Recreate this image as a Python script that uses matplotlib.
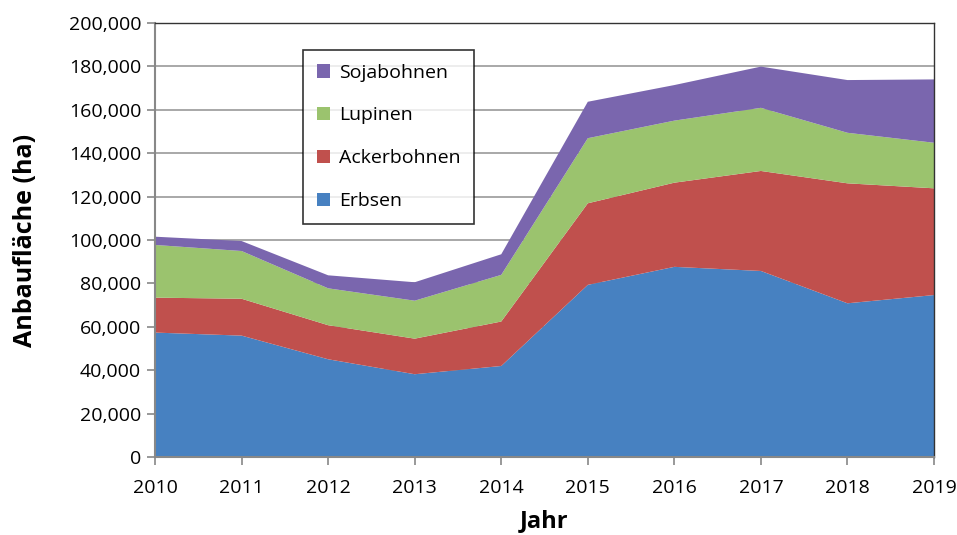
import numpy as np
import matplotlib.pyplot as plt
from matplotlib.ticker import FuncFormatter

plt.rcParams['font.family'] = ['Open Sans', 'DejaVu Sans']

years = [2010, 2011, 2012, 2013, 2014, 2015, 2016, 2017, 2018, 2019]
erbsen = [57300, 55900, 45000, 38100, 41900, 79300, 87600, 85700, 70800, 74600]
ackerbohnen = [16100, 17000, 15700, 16400, 20500, 37600, 38800, 46100, 55300, 49200]
lupinen = [24300, 22000, 17000, 17500, 21500, 30000, 28600, 29100, 23300, 21000]
sojabohnen = [3800, 4600, 6000, 8500, 9500, 16800, 16400, 19000, 24300, 29200]

labels = ['Erbsen', 'Ackerbohnen', 'Lupinen', 'Sojabohnen']
colors = ['#4781C1', '#C0504D', '#9BC36E', '#7A66AE']

fig = plt.figure(figsize=(9.57, 5.35), dpi=100)
ax = fig.add_axes([0.162, 0.146, 0.814, 0.811])

ax.stackplot(years, erbsen, ackerbohnen, lupinen, sojabohnen,
             labels=labels, colors=colors, linewidth=0)

ax.set_xlim(2010, 2019)
ax.set_ylim(0, 200000)
ax.set_xticks(years)
ax.set_yticks(np.arange(0, 200001, 20000))
ax.yaxis.set_major_formatter(FuncFormatter(lambda v, p: f'{int(v):,}'))
ax.grid(axis='y', color='#999999', linewidth=1.2, zorder=0)
ax.set_axisbelow(True)

for s in ['left', 'bottom']:
    ax.spines[s].set_color('#888888')
    ax.spines[s].set_linewidth(1.5)
for s in ['top', 'right']:
    ax.spines[s].set_color('#333333')
    ax.spines[s].set_linewidth(1.0)

ax.tick_params(axis='both', direction='out', length=6, width=1.2, color='#888888',
               labelsize=14, pad=4)
ax.tick_params(axis='x', pad=10)

ax.set_ylabel('Anbaufläche (ha)', fontsize=18, fontweight='bold')
ax.set_xlabel('Jahr', fontsize=17, fontweight='bold')
ax.yaxis.set_label_coords(-0.166, 0.5)
ax.xaxis.set_label_coords(0.5, -0.148)
ax.yaxis.label.set_va('center')
ax.xaxis.label.set_va('center')

handles, lbls = ax.get_legend_handles_labels()
leg = ax.legend(handles[::-1], lbls[::-1], loc='upper left',
                bbox_to_anchor=(0.19, 0.938), fontsize=14, frameon=True,
                fancybox=False, edgecolor='black', labelspacing=1.28,
                handlelength=0.7, handleheight=0.7, handletextpad=0.45,
                borderpad=0.7, borderaxespad=0)
leg.get_frame().set_linewidth(1.2)

fig.savefig('out.png', dpi=100)
